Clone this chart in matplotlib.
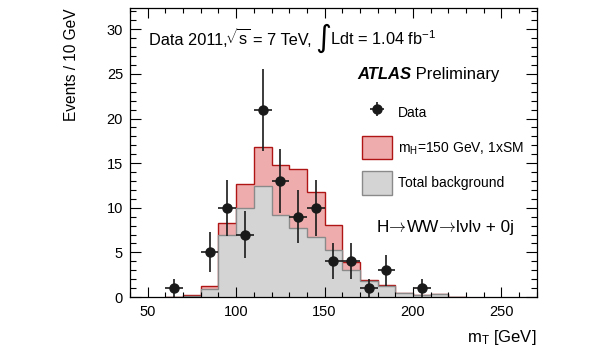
import matplotlib
matplotlib.use("Agg")
import matplotlib.pyplot as plt
import numpy as np
from matplotlib.patches import Patch
from matplotlib.ticker import MultipleLocator

plt.rcParams['font.family'] = ['Liberation Sans', 'DejaVu Sans']
plt.rcParams['mathtext.fontset'] = 'custom'
plt.rcParams['mathtext.rm'] = 'Liberation Sans'
plt.rcParams['mathtext.it'] = 'Liberation Sans:italic'
plt.rcParams['mathtext.bf'] = 'Liberation Sans:bold'

# histogram bins (10 GeV)
edges = np.arange(60, 240, 10)
background = [0, 0.06, 0.86, 7.0, 9.93, 12.4, 9.15, 7.69, 6.7, 5.26, 3.0,
              1.79, 1.23, 0.41, 0.17, 0.30, 0]
signal = [0, 0.14, 0.41, 1.25, 2.77, 4.4, 5.7, 6.7, 5.1, 2.77, 0.95,
          0.12, 0.08, 0.02, 0, 0, 0]

# data points (non-empty bins)
data_x = [65, 85, 95, 105, 115, 125, 135, 145, 155, 165, 175, 185, 205]
data_y = [1, 5, 10, 7, 21, 13, 9, 10, 4, 4, 1, 3, 1]

bkg = np.array(background)
tot = bkg + np.array(signal)

fig = plt.figure(figsize=(6, 3.5), dpi=100)
ax = fig.add_axes([0.2167, 0.1514, 0.678, 0.826])

ax.stairs(tot, edges, fill=True, facecolor='#efacac', edgecolor='none')
ax.stairs(tot, edges, color='#b01515', lw=1.0)
ax.stairs(bkg, edges, fill=True, facecolor='#d4d4d4', edgecolor='none')
ax.stairs(bkg, edges, color='#8a8a8a', lw=1.0)

dat = ax.errorbar(data_x, data_y, xerr=5, yerr=np.sqrt(data_y), fmt='o',
                  color='#1a1a1a', ms=6.5, elinewidth=1.2, capsize=0)

ax.set_xlim(40, 270)
ax.set_ylim(0, 32.4)
ax.xaxis.set_major_locator(MultipleLocator(50))
ax.xaxis.set_minor_locator(MultipleLocator(10))
ax.yaxis.set_major_locator(MultipleLocator(5))
ax.yaxis.set_minor_locator(MultipleLocator(1))
ax.tick_params(axis='both', which='both', direction='in', top=True, right=True,
               labelsize=10.5, width=0.8)
ax.tick_params(axis='x', which='major', length=7, pad=6)
ax.tick_params(axis='x', which='minor', length=3.5)
ax.tick_params(axis='y', which='major', length=8, pad=5)
ax.tick_params(axis='y', which='minor', length=4)
for s in ax.spines.values():
    s.set_linewidth(0.9)

ax.set_ylabel('Events / 10 GeV', fontsize=11.2, loc='top')
ax.yaxis.set_label_coords(-0.125, 1.0)
ax.set_xlabel(r'm$_\mathrm{T}$ [GeV]', fontsize=12, loc='right')
ax.xaxis.set_label_coords(1.0, -0.108)

# header: Data 2011, sqrt(s) = 7 TeV, int L dt = 1.04 fb-1
hy = 0.872
hs = 11.8
ax.text(0.0467, hy, 'Data 2011,', transform=ax.transAxes, fontsize=hs,
        va='baseline')
ax.text(0.2334, hy, r'$\sqrt{\mathrm{s}}$', transform=ax.transAxes,
        fontsize=hs, va='baseline')
ax.text(0.302, hy, '= 7 TeV,', transform=ax.transAxes, fontsize=hs,
        va='baseline')
ax.text(0.4545, 0.896, '\u222b', transform=ax.transAxes, fontsize=22,
        family='DejaVu Sans', va='center')
ax.text(0.4914, hy, r'Ldt = 1.04 fb$^{-1}$', transform=ax.transAxes,
        fontsize=hs, va='baseline')

t1 = ax.text(0.558, 0.768, 'ATLAS', transform=ax.transAxes, fontsize=12,
             fontweight='bold', fontstyle='italic', va='center', ha='left')
ax.annotate(' Preliminary', xy=(1, 0), xycoords=t1, va='bottom', ha='left',
            fontsize=12)

# H -> WW -> lvlv + 0j, thin arrows from the cm math font
cy = 0.225
pieces = ['H', r'$\!\!\rightarrow\!\!$', 'WW', r'$\!\!\rightarrow\!\!$',
          'l\u03bdl\u03bd + 0j']
prev = ax.text(0.607, cy, pieces[0], transform=ax.transAxes, fontsize=12.3,
               va='baseline', ha='left')
for txt in pieces[1:]:
    prev = ax.annotate(txt, xy=(1, cy), xycoords=(prev, ax.transAxes),
                       va='baseline', ha='left', fontsize=12.3,
                       math_fontfamily='cm')

handles = [dat,
           Patch(facecolor='#efacac', edgecolor='#b01515'),
           Patch(facecolor='#d4d4d4', edgecolor='#8a8a8a')]
labels = ['Data', r'm$_\mathrm{H}$=150 GeV, 1xSM', 'Total background']
ax.legend(handles, labels, loc='upper left', bbox_to_anchor=(0.570, 0.678),
          frameon=False, fontsize=10, handlelength=2.15, handleheight=2.2,
          labelspacing=0.86, handletextpad=0.45, borderpad=0, borderaxespad=0)

fig.savefig('out.png', dpi=100)
